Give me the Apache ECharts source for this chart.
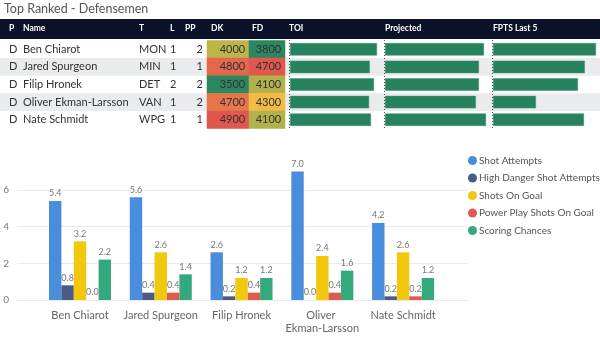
<!DOCTYPE html>
<html><head><meta charset="utf-8">
<script src="https://cdn.jsdelivr.net/npm/echarts@6/dist/echarts.min.js"></script>
<style>html,body{margin:0;padding:0;background:#fff}#c{width:600px;height:340px}</style>
</head><body><div id="c"></div>
<script>
// ---------- data ----------
const title = 'Top Ranked - Defensemen';
const headers = ['P', 'Name', 'T', 'L', 'PP', 'DK', 'FD', 'TOI', 'Projected', 'FPTS Last 5'];
const positions = ['D', 'D', 'D', 'D', 'D'];
const players = ['Ben Chiarot', 'Jared Spurgeon', 'Filip Hronek', 'Oliver Ekman-Larsson', 'Nate Schmidt'];
const teams = ['MON', 'MIN', 'DET', 'VAN', 'WPG'];
const lineNums = [1, 1, 2, 1, 1];
const ppUnits = [2, 1, 2, 2, 1];
const dkSalary = [4000, 4800, 3500, 4700, 4900];
const fdSalary = [3800, 4700, 4100, 4300, 4100];
const toi = [23.1, 21.2, 22.3, 21.0, 21.5];
const projected = [9.8, 9.3, 9.3, 9.0, 10.0];
const fptsLast5 = [12.0, 10.7, 9.9, 5.0, 10.6];

const seriesNames = ['Shot Attempts', 'High Danger Shot Attempts', 'Shots On Goal', 'Power Play Shots On Goal', 'Scoring Chances'];
const shotAttempts = [5.4, 5.6, 2.6, 7.0, 4.2];
const highDanger = [0.8, 0.4, 0.2, 0.0, 0.2];
const shotsOnGoal = [3.2, 2.6, 1.2, 2.4, 2.6];
const ppShotsOnGoal = [0.0, 0.4, 0.4, 0.4, 0.2];
const scoringChances = [2.2, 1.4, 1.2, 1.6, 1.2];
const yTicks = [0, 2, 4, 6];

// ---------- layout / style ----------
const FONT = "'Segoe UI', Lato, 'Open Sans', sans-serif";
const ROW_TOP = 40.5, ROW_H = 88;
const seriesColors = ['#4a8ddc', '#4c5a89', '#f2c80f', '#e05a52', '#34a97b'];
const textCols = [
  { x: 9, align: 'left', get: i => positions[i] },
  { x: 23, align: 'left', get: i => players[i] },
  { x: 139, align: 'left', get: i => teams[i] },
  { x: 170, align: 'left', get: i => String(lineNums[i]) },
  { x: 203, align: 'right', get: i => String(ppUnits[i]) }
];
const headerX = [9, 23, 139, 170, 185, 211, 252, 289, 385, 493];

const chart = echarts.init(document.getElementById('c'), null, { renderer: 'canvas' });

const grids = [
  { left: 0, width: 600, top: ROW_TOP, height: ROW_H },      // 0 text rows
  { left: 207, width: 42, top: ROW_TOP, height: ROW_H },     // 1 DK
  { left: 249, width: 36, top: ROW_TOP, height: ROW_H },     // 2 FD
  { left: 290, width: 87, top: ROW_TOP, height: ROW_H },     // 3 TOI
  { left: 385, width: 101, top: ROW_TOP, height: ROW_H },    // 4 Projected
  { left: 493, width: 103, top: ROW_TOP, height: ROW_H },    // 5 FPTS
  { left: 17, right: 132, top: 153.2, bottom: 40 },          // 6 chart background
  { left: 39.6, right: 156.5, top: 153.2, bottom: 40 }       // 7 chart bars
];

const xAxes = [], yAxes = [];
xAxes.push({ type: 'value', gridIndex: 0, min: 0, max: 600, show: false });
yAxes.push({ type: 'category', gridIndex: 0, data: players, inverse: true, show: false });
for (const gi of [1, 2]) {
  xAxes.push({ type: 'category', gridIndex: gi, data: ['c'], show: false });
  yAxes.push({ type: 'category', gridIndex: gi, data: players, inverse: true, show: false });
}
for (const gi of [3, 4, 5]) {
  xAxes.push({ type: 'value', gridIndex: gi, min: 0, max: 'dataMax', show: false });
  yAxes.push({ type: 'category', gridIndex: gi, data: players, inverse: true, show: false });
}
xAxes.push({ type: 'category', gridIndex: 6, data: ['a'], show: false });
yAxes.push({
  type: 'value', gridIndex: 6, min: 0, max: 8, interval: 2,
  axisLine: { show: false }, axisTick: { show: false },
  axisLabel: { color: '#777', fontSize: 10, fontFamily: FONT, margin: 8,
    formatter: v => (yTicks.includes(v) ? String(v) : '') },
  splitLine: { lineStyle: { color: ['#ebebeb', '#ebebeb', '#ebebeb', '#ebebeb', 'rgba(0,0,0,0)'], width: 1 } }
});
xAxes.push({
  type: 'category', gridIndex: 7, data: players,
  axisLine: { show: false }, axisTick: { show: false },
  axisLabel: { color: '#666', fontSize: 11, fontFamily: FONT, margin: 9, lineHeight: 13,
    width: 76, overflow: 'break', interval: 0 }
});
yAxes.push({ type: 'value', gridIndex: 7, min: 0, max: 8, show: false });

const series = [];
series.push({
  type: 'custom', xAxisIndex: 0, yAxisIndex: 0, z: 1, silent: true,
  data: players.map((p, i) => [0, i]),
  encode: { x: 0, y: 1 },
  renderItem: function (params, api) {
    const i = api.value(1);
    const c = api.coord([0, i]);
    const band = api.size([0, 1])[1];
    const children = [];
    if (i % 2 === 1) {
      children.push({ type: 'rect', shape: { x: 0, y: c[1] - band / 2, width: 600, height: band }, style: { fill: '#eaebed' } });
    }
    textCols.forEach(col => {
      children.push({ type: 'text', style: { x: col.x, y: c[1], text: col.get(i), align: col.align, verticalAlign: 'middle',
        fill: '#333', font: '11px ' + FONT } });
    });
    return { type: 'group', children };
  }
});
[[1, dkSalary], [2, fdSalary]].forEach(([gi, arr]) => {
  series.push({
    type: 'heatmap', xAxisIndex: gi, yAxisIndex: gi, z: 2,
    data: arr.map((v, i) => [0, i, v]),
    label: { show: true, position: 'insideRight', distance: 4, color: '#333', fontSize: 11, fontFamily: FONT },
    itemStyle: { borderWidth: 0 },
    emphasis: { disabled: true }
  });
});
[[3, toi], [4, projected], [5, fptsLast5]].forEach(([gi, arr]) => {
  series.push({
    type: 'bar', xAxisIndex: gi, yAxisIndex: gi, z: 3, barWidth: 12.5,
    data: arr, itemStyle: { color: '#27835e', borderColor: '#3d9573', borderWidth: 0.5 }, silent: true
  });
});
const chartData = [shotAttempts, highDanger, shotsOnGoal, ppShotsOnGoal, scoringChances];
chartData.forEach((arr, k) => {
  series.push({
    type: 'bar', name: seriesNames[k], xAxisIndex: 7, yAxisIndex: 7,
    data: arr, barWidth: 12.4, barGap: '0%',
    itemStyle: { color: seriesColors[k] },
    label: { show: true, position: 'top', distance: 3, color: '#777', fontSize: 9, fontFamily: FONT,
      formatter: p => p.value.toFixed(1) }
  });
});
series.push({ type: 'line', xAxisIndex: 6, yAxisIndex: 6, data: [], silent: true });

const graphic = [
  { type: 'text', left: 4, top: 2, style: { text: title, fill: '#555', font: '12.5px ' + FONT } },
  { type: 'rect', shape: { x: 0, y: 19, width: 600, height: 20 }, style: { fill: '#0a1128' }, z: 10 }
];
headers.forEach((h, k) => {
  graphic.push({ type: 'text', z: 11, style: { x: headerX[k], y: 28.5, text: h, fill: '#fff', font: 'bold 8.5px ' + FONT, verticalAlign: 'middle' } });
});
[289.5, 384.5, 492.5].forEach(x => {
  graphic.push({ type: 'line', z: 12, shape: { x1: x, y1: 40, x2: x, y2: 129 }, style: { stroke: '#555', lineWidth: 1, lineDash: [1, 2] } });
});

chart.setOption({
  animation: false,
  textStyle: { fontFamily: FONT },
  grid: grids,
  xAxis: xAxes,
  yAxis: yAxes,
  visualMap: [
    { type: 'continuous', show: false, seriesIndex: 1, dimension: 2, min: Math.min(...dkSalary), max: Math.max(...dkSalary), inRange: { color: ['#2a875f', '#f5c842', '#e0574f'] } },
    { type: 'continuous', show: false, seriesIndex: 2, dimension: 2, min: Math.min(...fdSalary), max: Math.max(...fdSalary), inRange: { color: ['#2a875f', '#f5c842', '#e0574f'] } }
  ],
  legend: {
    data: seriesNames, orient: 'vertical', left: 468, top: 155.5, padding: 0, itemWidth: 9, itemHeight: 9, itemGap: 7.5,
    icon: 'circle', textStyle: { color: '#555', fontSize: 10, fontFamily: FONT, padding: [0, 0, 0, -3] }
  },
  graphic,
  series
});
</script></body></html>
